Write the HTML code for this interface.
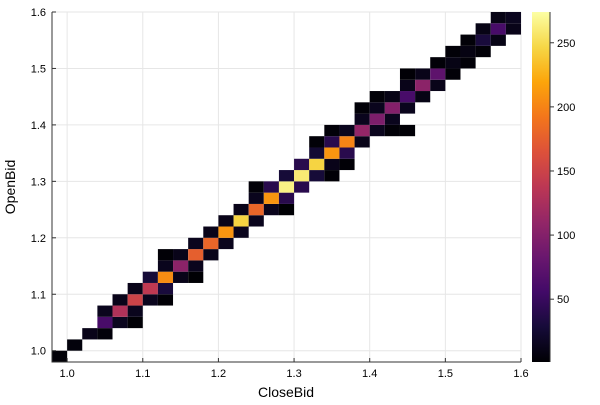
<!DOCTYPE html>
<html><head><meta charset="utf-8"><style>
body{margin:0;background:#fff}
svg{font-family:"Liberation Sans",sans-serif}
</style></head><body>
<svg id="chart" width="600" height="400" xmlns="http://www.w3.org/2000/svg"></svg>
<script>
// Bin centers (CloseBid, OpenBid) and counts
const binX = [
0.99,
1.01,
1.03,1.05,
1.05,1.07,1.09,
1.05,1.07,1.09,
1.07,1.09,1.11,1.13,
1.09,1.11,1.13,
1.11,1.13,1.15,1.17,
1.13,1.15,1.17,
1.13,1.15,1.17,1.19,
1.17,1.19,1.21,
1.19,1.21,1.23,
1.21,1.23,1.25,
1.23,1.25,1.27,1.29,
1.25,1.27,1.29,
1.25,1.27,1.29,1.31,
1.29,1.31,1.33,1.35,
1.31,1.33,1.35,1.37,
1.33,1.35,1.37,
1.33,1.35,1.37,1.39,
1.35,1.37,1.39,1.41,1.43,1.45,
1.39,1.41,1.43,
1.39,1.41,1.43,1.45,
1.41,1.43,1.45,1.47,
1.45,1.47,1.49,
1.45,1.47,1.49,1.51,
1.49,1.51,1.53,
1.51,1.53,1.55,
1.53,1.55,1.57,
1.55,1.57,1.59,
1.57,1.59];
const binY = [
0.99,
1.01,
1.03,1.03,
1.05,1.05,1.05,
1.07,1.07,1.07,
1.09,1.09,1.09,1.09,
1.11,1.11,1.11,
1.13,1.13,1.13,1.13,
1.15,1.15,1.15,
1.17,1.17,1.17,1.17,
1.19,1.19,1.19,
1.21,1.21,1.21,
1.23,1.23,1.23,
1.25,1.25,1.25,1.25,
1.27,1.27,1.27,
1.29,1.29,1.29,1.29,
1.31,1.31,1.31,1.31,
1.33,1.33,1.33,1.33,
1.35,1.35,1.35,
1.37,1.37,1.37,1.37,
1.39,1.39,1.39,1.39,1.39,1.39,
1.41,1.41,1.41,
1.43,1.43,1.43,1.43,
1.45,1.45,1.45,1.45,
1.47,1.47,1.47,
1.49,1.49,1.49,1.49,
1.51,1.51,1.51,
1.53,1.53,1.53,
1.55,1.55,1.55,
1.57,1.57,1.57,
1.59,1.59];
const binCount = [
3,
5,
12,4,
60,15,2,
14,130,14,
12,150,14,2,
12,140,30,
28,205,12,1,
14,105,14,
2,12,175,12,
14,180,14,
12,210,14,
12,245,14,
12,180,14,1,
14,210,40,
3,40,265,40,
28,260,28,2,
40,245,12,2,
25,210,40,
3,40,200,12,
3,14,110,14,3,2,
14,95,14,
3,14,100,14,
3,10,60,10,
12,105,12,
2,12,75,3,
3,10,3,
3,8,3,
3,30,10,
10,60,12,
10,15];
const xTicks = [1.0,1.1,1.2,1.3,1.4,1.5,1.6];
const xTickLabels = ["1.0","1.1","1.2","1.3","1.4","1.5","1.6"];
const yTicks = [1.0,1.1,1.2,1.3,1.4,1.5,1.6];
const yTickLabels = ["1.0","1.1","1.2","1.3","1.4","1.5","1.6"];
const cbTicks = [50,100,150,200,250];

const NS="http://www.w3.org/2000/svg";
const svg=document.getElementById('chart');
const L=52,R=521,T=12,B=362, xmin=0.98,xmax=1.6,ymin=0.98,ymax=1.6;
const cmin=1,cmax=274;
const sx=v=>L+(v-xmin)/(xmax-xmin)*(R-L);
const sy=v=>B-(v-ymin)/(ymax-ymin)*(B-T);
const cy=v=>B-(v-cmin)/(cmax-cmin)*(B-T);
function mk(tag,attrs){const e=document.createElementNS(NS,tag);for(const k in attrs)e.setAttribute(k,attrs[k]);svg.appendChild(e);return e;}
const stops=[[0,0,0,4],[0.1,22,11,57],[0.2,66,10,104],[0.3,106,23,110],[0.4,147,38,103],[0.5,188,55,84],[0.6,221,81,58],[0.7,243,118,27],[0.8,252,165,10],[0.9,246,215,70],[1,252,255,164]];
function inferno(t){t=Math.max(0,Math.min(1,t));for(let i=1;i<stops.length;i++){if(t<=stops[i][0]){const a=stops[i-1],b=stops[i],f=(t-a[0])/(b[0]-a[0]);return `rgb(${Math.round(a[1]+f*(b[1]-a[1]))},${Math.round(a[2]+f*(b[2]-a[2]))},${Math.round(a[3]+f*(b[3]-a[3]))})`;}}return 'rgb(252,255,164)';}

xTicks.forEach((v,i)=>{const g=mk('line',{x1:sx(v),x2:sx(v),y1:T,y2:B,stroke:'#e6e6e6','stroke-width':1});

});
yTicks.forEach((v,i)=>{const g=mk('line',{x1:L,x2:R,y1:sy(v),y2:sy(v),stroke:'#e6e6e6','stroke-width':1});

});

const w=0.02;
binX.forEach((x,i)=>{const r=mk('rect',{x:sx(x-w/2),y:sy(binY[i]+w/2),width:sx(x+w/2)-sx(x-w/2),height:sy(binY[i]-w/2)-sy(binY[i]+w/2),fill:inferno((binCount[i]-cmin)/(cmax-cmin))});

});

const ax=mk('path',{d:`M${L},${T}V${B}H${R}`,stroke:'#333',fill:'none','stroke-width':1});


xTicks.forEach((v,i)=>{mk('line',{x1:sx(v),x2:sx(v),y1:B,y2:B-4,stroke:'#333'});
const t=mk('text',{x:sx(v),y:377,'text-anchor':'middle','font-size':11,fill:'#000'});t.textContent=xTickLabels[i];

});
yTicks.forEach((v,i)=>{mk('line',{x1:L,x2:L+4,y1:sy(v),y2:sy(v),stroke:'#333'});
const t=mk('text',{x:46,y:sy(v)+4,'text-anchor':'end','font-size':11,fill:'#000'});t.textContent=yTickLabels[i];

});
const xl=mk('text',{x:286,y:397,'text-anchor':'middle','font-size':14});xl.textContent='CloseBid';


const yl=mk('text',{x:0,y:0,'text-anchor':'middle','font-size':14,transform:'translate(15,187) rotate(-90)'});yl.textContent='OpenBid';



const defs=mk('defs',{});const lg=document.createElementNS(NS,'linearGradient');lg.setAttribute('id','cbg');lg.setAttribute('x1','0');lg.setAttribute('y1','1');lg.setAttribute('x2','0');lg.setAttribute('y2','0');defs.appendChild(lg);
stops.forEach(s=>{const st=document.createElementNS(NS,'stop');st.setAttribute('offset',s[0]);st.setAttribute('stop-color',`rgb(${s[1]},${s[2]},${s[3]})`);lg.appendChild(st);});
const cb=mk('rect',{x:532,y:T,width:18,height:B-T,fill:'url(#cbg)'});


mk('line',{x1:550,x2:550,y1:T,y2:B,stroke:'#333'});
cbTicks.forEach(v=>{mk('line',{x1:550,x2:554,y1:cy(v),y2:cy(v),stroke:'#333'});
const t=mk('text',{x:557,y:cy(v)+4,'font-size':11});t.textContent=v;

});
</script>
</body></html>
